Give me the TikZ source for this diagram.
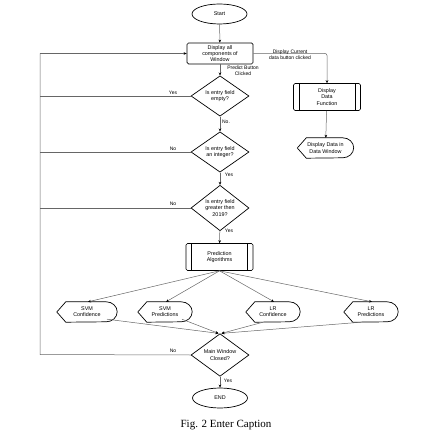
\documentclass[tikz,border=0pt]{standalone}
\usepackage{fontspec}
\setmainfont{Liberation Serif}
\newfontfamily\nodefont{Liberation Sans}
\usetikzlibrary{shapes.geometric,arrows.meta}
\tikzset{
  every node/.style={font=\nodefont\fontsize{5.4}{6.2}\selectfont, align=center, inner sep=0pt, text=black},
  term/.style={ellipse, draw, line width=0.7pt, minimum width=55pt, minimum height=20pt},
  proc/.style={rectangle, draw, rounded corners=1.5pt, line width=0.7pt, minimum width=66pt, minimum height=21pt},
  pproc/.style={rectangle, draw, rounded corners=1.5pt, line width=0.6pt, minimum width=67pt, minimum height=27pt},
  dec/.style={diamond, draw, line width=0.7pt, minimum width=58pt, minimum height=38pt},
  shp/.style={rectangle, minimum width=52pt, minimum height=20pt},
  conn/.style={draw=black!60, line width=0.5pt, -{Stealth[length=3pt,width=2.6pt,black]}},
  plain/.style={draw=black!60, line width=0.5pt},
  lbl/.style={font=\nodefont\fontsize{5}{5.8}\selectfont},
}
\newcommand\barsin[1]{%
  \draw[line width=0.5pt] ([xshift=6pt]#1.north west) -- ([xshift=6pt]#1.south west);
  \draw[line width=0.5pt] ([xshift=-6pt]#1.north east) -- ([xshift=-6pt]#1.south east);}
\newcommand\dispshape[1]{%
  \draw[line width=0.7pt] (#1.west) -- ([xshift=9pt]#1.north west) -- ([xshift=-11pt]#1.north east)
    arc[start angle=90, end angle=-90, x radius=11pt, y radius=10pt]
    -- ([xshift=9pt]#1.south west) -- cycle;}
\begin{document}
\begin{tikzpicture}[x=1pt,y=1pt]
\useasboundingbox (0,0) rectangle (422,-438);
% nodes
\node[term] (start) at (219.5,-14) {Start};
\node[proc] (disp) at (220,-53.5) {Display all\\components of\\Window};
\node[pproc] (ddf) at (327,-97) {Display\\Data\\Function};
\barsin{ddf}
\node[shp, minimum width=56pt] (ddw) at (325.5,-148) {Display Data in\\Data Window};
\dispshape{ddw}
\node[dec] (d1) at (220,-96) {Is entry field\\empty?};
\node[dec] (d2) at (220,-152) {Is entry field\\an integer?};
\node[dec] (d3) at (220,-208) {Is entry field\\greater then\\2019?};
\node[pproc] (pa) at (219.5,-257) {Prediction\\Algorithms};
\barsin{pa}
\node[shp, minimum width=60pt] (sc) at (87,-312) {SVM\\Confidence};
\dispshape{sc}
\node[shp, minimum width=54pt] (sp) at (165,-312) {SVM\\Predictions};
\dispshape{sp}
\node[shp, minimum width=54pt] (lc) at (273,-312) {LR\\Confidence};
\dispshape{lc}
\node[shp, minimum width=54pt] (lp) at (371,-312) {LR\\Predictions};
\dispshape{lp}
\node[dec] (mw) at (220,-355) {Main Window\\Closed?};
\node[term] (end) at (220,-398) {END};
\node[font=\fontsize{11}{13}\selectfont, text=black] (cap) at (226,-425) {Fig. 2 Enter Caption};
% coordinates of the left loop
\coordinate (lb) at (40,-354.5);
\coordinate (lt) at (40,-53.5);
% connectors
\draw[conn] (start) -- (disp);
\draw[conn] (disp) -- (d1);
\draw[conn, rounded corners=2pt] (disp.east) -| (ddf.north);
\draw[conn] (ddf) -- (ddw);
\draw[conn] (d1) -- (d2);
\draw[conn] (d2) -- (d3);
\draw[conn] (d3) -- (pa);
\foreach \t in {sc,sp,lc,lp} {\draw[conn] (pa.south) -- ([xshift=1pt]\t.north);}
\draw[conn] ([xshift=20pt,yshift=3pt]sc.south) -- ([xshift=-1.5pt]mw.north);
\draw[conn] ([xshift=17pt,yshift=3pt]sp.south) -- ([xshift=-1.5pt]mw.north);
\draw[conn] ([xshift=-10pt]lc.south) -- ([xshift=1.5pt]mw.north);
\draw[conn] ([xshift=-10pt]lp.south) -- ([xshift=1.5pt]mw.north);
\draw[conn] (mw) -- (end);
\draw[plain] (mw.west) -- (lb) -- (lt);
\draw[conn] (lt) -- (disp.west);
\draw[plain] (d1.west) -- (d1.west -| lb);
\draw[plain] (d2.west) -- (d2.west -| lb);
\draw[plain] (d3.west) -- (d3.west -| lb);
% labels
\node[lbl] (l1) at (290,-55) {Display Current\\data button clicked};
\node[lbl] (l2) at (243,-71) {Predict Button\\Clicked};
\node[lbl, anchor=south] (l3) at (173,-94.5) {Yes};
\node[lbl] (l4) at (226,-122) {No.};
\node[lbl, anchor=south] (l5) at (173,-150.5) {No};
\node[lbl] (l6) at (229,-175) {Yes};
\node[lbl, anchor=south] (l7) at (173,-206) {No};
\node[lbl] (l8) at (229,-231) {Yes};
\node[lbl, anchor=south] (l9) at (173,-353) {No};
\node[lbl] (l10) at (228,-381) {Yes};
\end{tikzpicture}
\end{document}
